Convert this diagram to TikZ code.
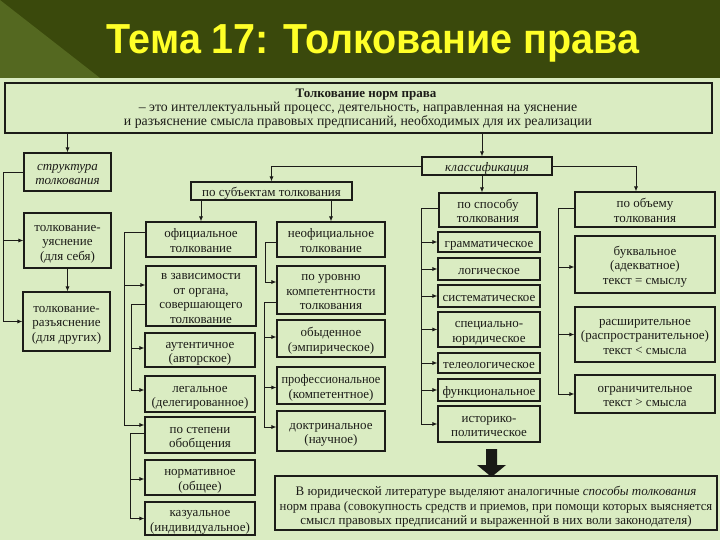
\documentclass[tikz,border=0pt]{standalone}
\usepackage{fontspec}
\setmainfont{Liberation Serif}
\newfontfamily\titlefont{Liberation Sans}
\usetikzlibrary{arrows.meta}
\definecolor{hdr}{RGB}{58,73,12}
\definecolor{hdrl}{RGB}{84,104,32}
\definecolor{bg}{RGB}{218,236,194}
\definecolor{ink}{RGB}{28,28,24}
\definecolor{ttl}{RGB}{255,255,40}
\newcommand\Bx[6]{\node[bx, minimum width=#4pt, minimum height=#5pt] (#1) at (#2,#3)
  {\raisebox{-2.5pt}[\height][\depth]{\begin{tabular}{@{}c@{}}#6\end{tabular}}};}
\begin{document}
\begin{tikzpicture}[x=1pt,y=-1pt,
  bx/.style={draw=ink, line width=1.1pt, fill=bg, inner sep=0pt, text=ink,
    font=\fontsize{13}{14.5}\selectfont},
  txt/.style={inner sep=0pt, text=ink, font=\fontsize{13.8}{14}\selectfont},
  conn/.style={draw=ink, line width=0.8pt},
  arr/.style={conn, -{Latex[length=5pt,width=4pt]}}]
\useasboundingbox (0,0) rectangle (720,540);
\fill[bg] (0,0) rectangle (720,540);
\fill[hdr] (0,0) rectangle (720,78);
\fill[hdrl] (0,0) -- (100,78) -- (0,78) -- cycle;
\node[anchor=base, inner sep=0pt, text=ttl, font=\titlefont\bfseries\fontsize{42}{42}\selectfont] (title) at (373,54)
  {\scalebox{0.94}[1]{Тема 17: Толкование права}};

% main box
\Bx{main}{358.5}{108}{707}{50}{}
\node[txt] (maintxt) at (358,109) {\begin{tabular}{@{}c@{}}\hspace*{16pt}{\fontsize{13}{14}\selectfont\textbf{Толкование норм права}}\\
  – это интеллектуальный процесс, деятельность, направленная на уяснение\\
  и разъяснение смысла правовых предписаний, необходимых для их реализации\end{tabular}};

% structure
\Bx{str}{67.5}{172}{87}{38}{\textit{структура}\\\textit{толкования}}
\Bx{usn}{67.5}{240.5}{87}{55}{толкование-\\уяснение\\(для себя)}
\Bx{raz}{66.5}{321.5}{87}{59}{толкование-\\разъяснение\\(для других)}

% by subjects
\Bx{psub}{271.5}{191}{161}{18}{по субъектам толкования}
\Bx{ofc}{201}{239.5}{110}{35}{официальное\\толкование}
\Bx{vzav}{201}{296}{110}{60}{в зависимости\\от органа,\\совершающего\\толкование}
\Bx{aut}{200}{350}{110}{34}{аутентичное\\(авторское)}
\Bx{leg}{200}{394}{110}{36}{легальное\\(делегированное)}
\Bx{pst}{200}{435}{110}{36}{по степени\\обобщения}
\Bx{norm}{200}{477.5}{110}{35}{нормативное\\(общее)}
\Bx{kaz}{200}{518.5}{110}{33}{казуальное\\(индивидуальное)}
\Bx{nof}{331}{239.5}{108}{35}{неофициальное\\толкование}
\Bx{pur}{331}{290}{108}{48}{по уровню\\компетентности\\толкования}
\Bx{oby}{331}{338.5}{108}{37}{обыденное\\(эмпирическое)}
\Bx{prof}{331}{385.5}{108}{37}{\scalebox{0.95}[1]{профессиональное}\\(компетентное)}
\Bx{dokt}{331}{431}{108}{40}{доктринальное\\(научное)}

% classification
\Bx{kls}{487}{166}{130}{18}{\textit{классификация}}
\Bx{psp}{488}{210}{98}{34}{по способу\\толкования}
\Bx{gram}{489}{242}{102}{20}{грамматическое}
\Bx{log}{489}{269}{102}{22}{логическое}
\Bx{sys}{489}{296}{102}{22}{систематическое}
\Bx{spec}{489}{329.5}{102}{35}{специально-\\юридическое}
\Bx{tel}{489}{363}{102}{20}{телеологическое}
\Bx{fun}{489}{390}{102}{22}{функциональное}
\Bx{ist}{489}{424}{102}{36}{историко-\\политическое}
\Bx{pob}{645}{209.5}{140}{35}{по объему\\толкования}
\Bx{bukv}{645}{264.5}{140}{57}{буквальное\\(адекватное)\\текст = смыслу}
\Bx{rash}{645}{334.5}{140}{55}{расширительное\\(распространительное)\\текст < смысла}
\Bx{ogr}{645}{394}{140}{38}{ограничительное\\текст > смысла}

% bottom
\Bx{bot}{496}{503}{442}{54}{\raisebox{-2pt}[\height][\depth]{В юридической литературе выделяют аналогичные \textit{способы толкования}}\\
  \raisebox{-2pt}[\height][\depth]{\scalebox{0.98}[1]{норм права (совокупность средств и приемов, при помощи которых выясняется}}\\
  \raisebox{-2pt}[\height][\depth]{смысл правовых предписаний и выраженной в них воли законодателя)}}

% connectors from main
\draw[arr] (str.north |- main.south) -- (str.north);
\draw[arr] ([xshift=-5pt]kls.north |- main.south) -- ([xshift=-5pt]kls.north);

% structure branch
\coordinate (sL) at (3,0);
\draw[arr] (str.west) -- (sL |- str.west) -- (sL |- raz.west) -- (raz.west);
\draw[arr] (sL |- usn.west) -- (usn.west);
\draw[arr] (usn.south) -- (usn.south |- raz.north);

% classification branches
\draw[arr] (kls.west) -| (psub.north);
\draw[arr] (kls.east) -| ([xshift=-9pt]pob.north);
\draw[arr] ([xshift=-5pt]kls.south) -- ([xshift=-5pt]kls.south |- psp.north);
\draw[arr] (psub.south -| ofc.north) -- (ofc.north);
\draw[arr] (psub.south -| nof.north) -- (nof.north);

% official
\coordinate (oL) at (124,0);
\coordinate (ofcO) at ([yshift=7pt]ofc.west);
\coordinate (vzI) at ([yshift=11pt]vzav.west);
\coordinate (pstI) at ([yshift=10pt]pst.west);
\draw[arr] (ofcO) -- (oL |- ofcO) -- (oL |- pstI) -- (pstI);
\draw[arr] (oL |- vzI) -- (vzI);

\coordinate (vL) at (131,0);
\coordinate (vzO) at ([yshift=-8pt]vzav.west);
\coordinate (autI) at ([yshift=2pt]aut.west);
\coordinate (legI) at ([yshift=4pt]leg.west);
\draw[arr] (vzO) -- (vL |- vzO) -- (vL |- legI) -- (legI);
\draw[arr] (vL |- autI) -- (autI);

\coordinate (pL) at (130,0);
\coordinate (pstO) at ([yshift=2pt]pst.west);
\coordinate (normI) at ([yshift=-1.5pt]norm.west);
\draw[arr] (pstO) -- (pL |- pstO) -- (pL |- kaz.west) -- (kaz.west);
\draw[arr] (pL |- normI) -- (normI);

% unofficial
\coordinate (nL) at (265,0);
\coordinate (nofO) at ([yshift=-2.5pt]nof.west);
\coordinate (purI) at ([yshift=8pt]pur.west);
\draw[arr] (nofO) -- (nL |- nofO) -- (nL |- purI) -- (purI);

\coordinate (uL) at (264,0);
\coordinate (purO) at ([yshift=-12pt]pur.west);
\coordinate (obyI) at ([yshift=1.5pt]oby.west);
\coordinate (profI) at ([yshift=-2pt]prof.west);
\coordinate (doktI) at ([yshift=4pt]dokt.west);
\draw[arr] (purO) -- (uL |- purO) -- (uL |- doktI) -- (doktI);
\draw[arr] (uL |- obyI) -- (obyI);
\draw[arr] (uL |- profI) -- (profI);

% by method
\coordinate (mL) at (421,0);
\coordinate (pspO) at ([yshift=2pt]psp.west);
\draw[arr] (pspO) -- (mL |- pspO) -- (mL |- ist.west) -- (ist.west);
\foreach \n in {gram,log,sys,spec,tel,fun} \draw[arr] (mL |- \n.west) -- (\n.west);

% by scope
\coordinate (bL) at (558,0);
\coordinate (pobO) at ([yshift=1.5pt]pob.west);
\coordinate (bukvI) at ([yshift=-2.5pt]bukv.west);
\draw[arr] (pobO) -- (bL |- pobO) -- (bL |- ogr.west) -- (ogr.west);
\draw[arr] (bL |- bukvI) -- (bukvI);
\draw[arr] (bL |- rash.west) -- (rash.west);

% block arrow
\fill[ink!90!black] (486,449) -- (497,449) -- (497,465) -- (506,465) -- (491.5,477) -- (477,465) -- (486,465) -- cycle;
\end{tikzpicture}
\end{document}
